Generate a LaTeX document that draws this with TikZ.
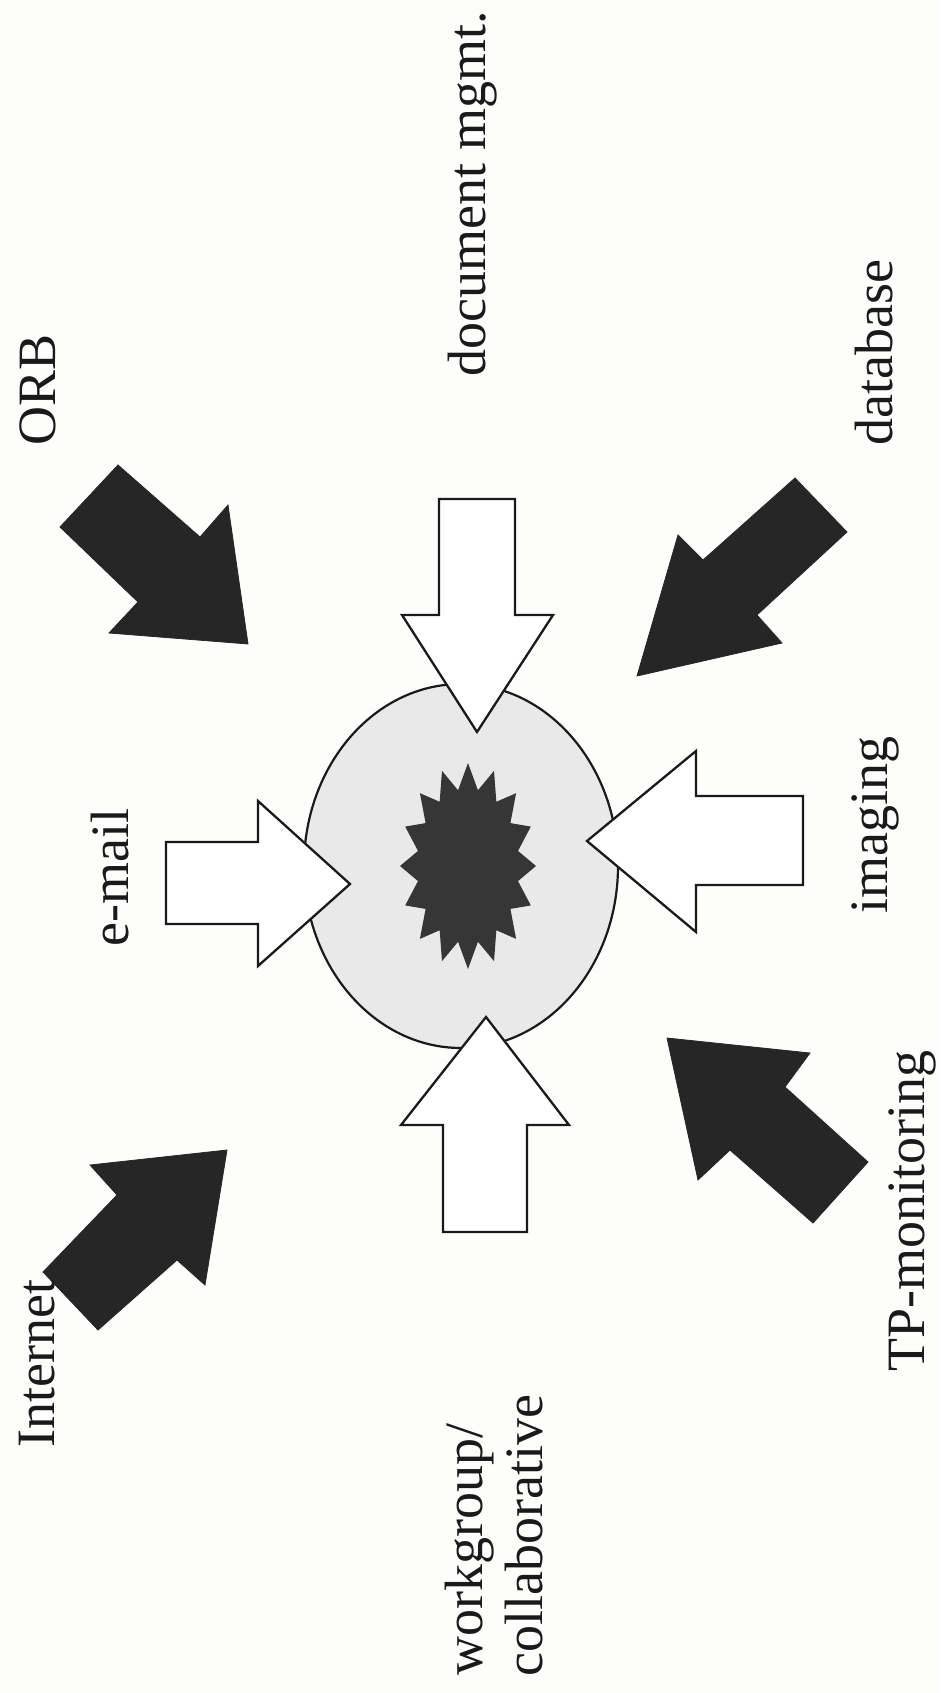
\documentclass[tikz,border=0pt]{standalone}
\usepackage{fontspec}
\setmainfont{Liberation Serif}
\usetikzlibrary{shapes.geometric}
\definecolor{ink}{HTML}{1A1A1A}
\definecolor{darkarrow}{HTML}{262626}
\definecolor{hubfill}{HTML}{E9E9E9}
\definecolor{starfill}{HTML}{363636}
\definecolor{paper}{HTML}{FDFDFB}
\begin{document}
\begin{tikzpicture}[x=1pt,y=-1pt,
  lbl/.style={font=\fontsize{54}{58}\selectfont, text=ink, inner sep=0pt, rotate=90, anchor=base west},
  whitearrow/.style={fill=white, draw=ink, line width=2.3pt, line join=miter},
  blackarrow/.style={fill=darkarrow, draw=darkarrow, line width=0.8pt, line join=miter},
  hubstyle/.style={ellipse, draw=ink, fill=hubfill, line width=2.2pt, minimum width=314pt, minimum height=364pt, inner sep=0pt}]
\fill[paper] (0,0) rectangle (940,1693);
\useasboundingbox (0,0) rectangle (940,1693);

% central hub and core
\node[hubstyle] (hub) at (461,866) {};
\fill[starfill] plot[samples at={0,...,31}] ({468+(1-0.25*mod(\x,2))*68*cos(\x*11.25)}, {866+(1-0.25*mod(\x,2))*103*sin(\x*11.25)}) -- cycle;

% white arrows
\draw[whitearrow] (439,499) -- (515,499) -- (515,615) -- (553,615) -- (477,732) -- (402,615) -- (439,615) -- cycle;
\draw[whitearrow] (166,842) -- (258,842) -- (258,801) -- (350,884) -- (258,966) -- (258,924) -- (166,924) -- cycle;
\draw[whitearrow] (803,796) -- (696,796) -- (696,751) -- (587,841) -- (696,932) -- (696,885) -- (803,885) -- cycle;
\draw[whitearrow] (443,1232) -- (443,1125) -- (401,1125) -- (486,1017) -- (569,1125) -- (527,1125) -- (527,1232) -- cycle;

% dark arrows
\filldraw[blackarrow] (118,465) -- (200,537) -- (228,505) -- (248,644) -- (109,633) -- (138,602) -- (60,527) -- cycle;
\filldraw[blackarrow] (795,478) -- (847,532) -- (757,615) -- (782,643) -- (637,676) -- (678,535) -- (703,560) -- cycle;
\filldraw[blackarrow] (227,1150) -- (90,1165) -- (117,1195) -- (43,1272) -- (98,1330) -- (177,1260) -- (205,1285) -- cycle;
\filldraw[blackarrow] (667,1038) -- (810,1053) -- (785,1087) -- (868,1162) -- (813,1223) -- (730,1150) -- (698,1180) -- cycle;

% labels
\node[lbl] (orb) at (55,446) {ORB};
\node[lbl] (doc) at (485,377) {document mgmt.};
\node[lbl] (db) at (892,446) {database};
\node[lbl] (email) at (128,947) {e-mail};
\node[lbl] (img) at (887,914) {imaging};
\node[lbl] (inet) at (54,1448) {Internet};
\node[lbl] (tp) at (924,1372) {TP-monitoring};
\node[lbl] (wg1) at (482,1676) {workgroup/};
\node[lbl] (wg2) at (542,1677) {collaborative};
\end{tikzpicture}
\end{document}
